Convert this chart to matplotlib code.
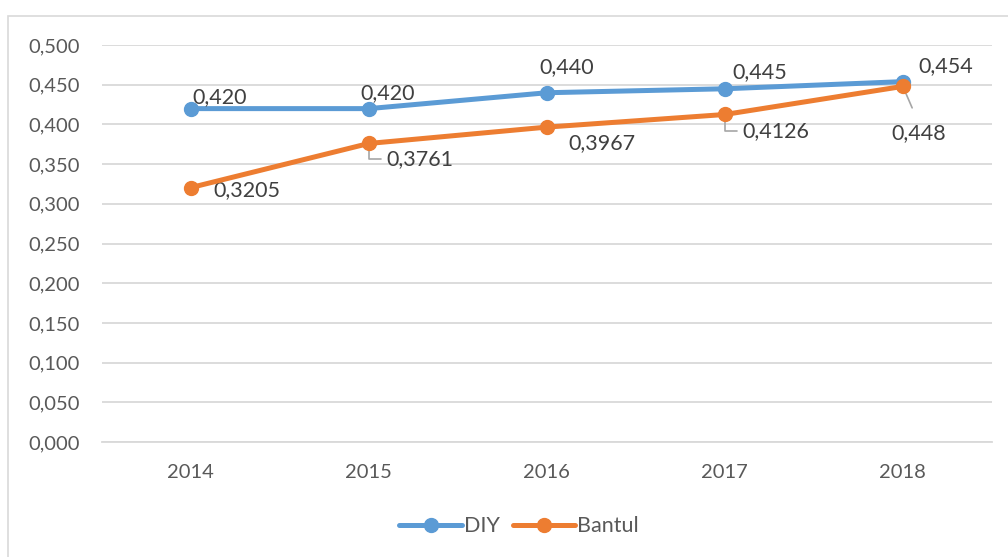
import numpy as np
import matplotlib.pyplot as plt
from matplotlib.patches import Rectangle
from matplotlib.ticker import FuncFormatter, MultipleLocator

years = ['2014', '2015', '2016', '2017', '2018']
diy = [0.420, 0.420, 0.440, 0.445, 0.454]
bantul = [0.3205, 0.3761, 0.3967, 0.4126, 0.448]
diy_labels = ['0,420', '0,420', '0,440', '0,445', '0,454']
bantul_labels = ['0,3205', '0,3761', '0,3967', '0,4126', '0,448']

blue = '#5B9BD5'
orange = '#ED7D31'
grid_c = '#D9D9D9'

plt.rcParams['font.family'] = ['Lato', 'DejaVu Sans']

fig = plt.figure(figsize=(10.08, 5.57), dpi=100)
fig.patches.append(Rectangle((8 / 1008, -0.05), 1.1, 1 - 16 / 557 + 0.05,
                             transform=fig.transFigure, fill=False,
                             edgecolor=grid_c, lw=1.2))
ax = fig.add_axes([0.101, 0.2065, 0.883, 0.7125])

x = np.arange(len(years))
ax.plot(x, diy, color=blue, lw=3.6, marker='o', ms=10, label='DIY',
        solid_capstyle='round', zorder=3)
ax.plot(x, bantul, color=orange, lw=3.6, marker='o', ms=10, label='Bantul',
        solid_capstyle='round', zorder=4)

ax.set_xlim(-0.5, len(years) - 0.5)
ax.set_ylim(0, 0.5)
ax.yaxis.set_major_locator(MultipleLocator(0.05))
ax.yaxis.set_major_formatter(FuncFormatter(lambda v, p: '{:.3f}'.format(v).replace('.', ',')))
ax.set_xticks(x)
ax.set_xticklabels(years)
ax.grid(axis='y', color=grid_c, lw=1.3)
ax.set_axisbelow(True)
for s in ['top', 'right', 'left']:
    ax.spines[s].set_visible(False)
ax.spines['bottom'].set_color(grid_c)
ax.spines['bottom'].set_linewidth(1.3)
ax.tick_params(length=0, labelsize=14.5, colors='#595959')
ax.tick_params(axis='y', pad=16)
ax.tick_params(axis='x', pad=16)

lab_kw = dict(textcoords='offset pixels', fontsize=15.5, color='#404040',
              va='center')
# DIY labels (pixel offsets from point)
diy_off = [(29, 12), (19, 16), (20, 26), (35, 17), (43, 16)]
for i, (dx, dy) in enumerate(diy_off):
    ax.annotate(diy_labels[i], (x[i], diy[i]), xytext=(dx, dy), ha='center',
                zorder=5, **lab_kw)

# Bantul labels
ax.annotate(bantul_labels[0], (x[0], bantul[0]), xytext=(56, -3),
            ha='center', **lab_kw)
ax.annotate(bantul_labels[2], (x[2], bantul[2]), xytext=(55, -16),
            ha='center', **lab_kw)
leader = dict(arrowstyle='-', color='#A6A6A6', lw=1.2, relpos=(0, 0.5),
              connectionstyle='angle,angleA=0,angleB=90,rad=0',
              shrinkA=2, shrinkB=5)
ax.annotate(bantul_labels[1], (x[1], bantul[1]), xytext=(18, -16),
            ha='left', arrowprops=leader, **lab_kw)
ax.annotate(bantul_labels[3], (x[3], bantul[3]), xytext=(18, -17),
            ha='left', arrowprops=leader, **lab_kw)
ax.annotate(bantul_labels[4], (x[4], bantul[4]), xytext=(16, -47),
            ha='center',
            arrowprops=dict(arrowstyle='-', color='#A6A6A6', lw=1.2,
                            relpos=(0.5, 1), shrinkA=10, shrinkB=2),
            **lab_kw)

leg = fig.legend(loc='center', bbox_to_anchor=(0.515, 0.055), ncol=2,
                 frameon=False, fontsize=15.5, handlelength=2.9,
                 columnspacing=0.6, handletextpad=0.1)
for t in leg.get_texts():
    t.set_color('#595959')

fig.savefig('out.png', dpi=100)
